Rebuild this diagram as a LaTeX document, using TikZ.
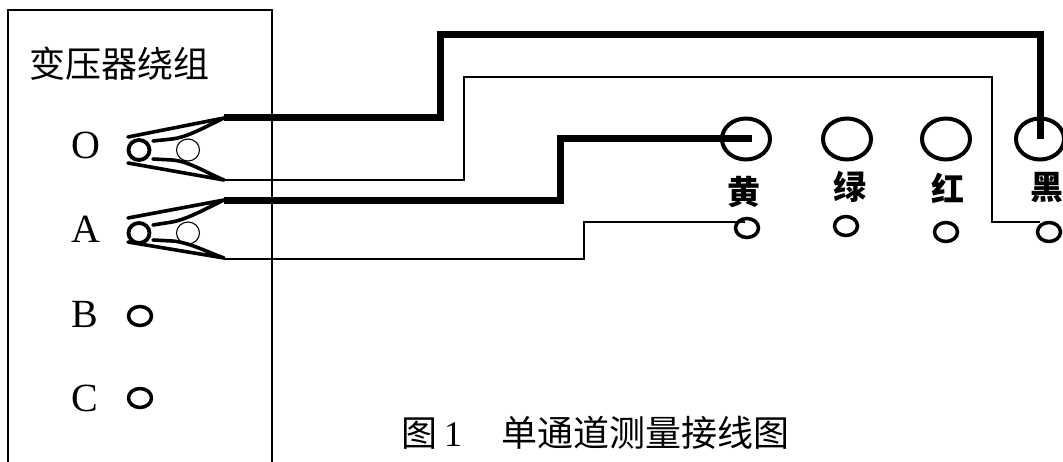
\documentclass[tikz,border=0pt]{standalone}
\usepackage{fontspec}
\setmainfont{Liberation Serif}
\newfontfamily\cjk{Noto Sans CJK SC}
\usetikzlibrary{shapes.geometric}
\begin{document}
\begin{tikzpicture}[x=1pt,y=-1pt,
  thickwire/.style={line width=7pt,line join=miter},
  thinwire/.style={line width=1.3pt},
  frame/.style={line width=1.6pt},
  bigring/.style={draw,ellipse,line width=4pt,minimum width=48pt,minimum height=41pt,inner sep=0pt},
  smallring/.style={draw,ellipse,line width=3.5pt,minimum width=23pt,minimum height=19pt,inner sep=0pt},
  jaw/.style={line width=3.6pt,line join=round,line cap=round},
  ringthick/.style={line width=3.8pt},
  ringthin/.style={line width=1.1pt},
  term/.style={font=\fontsize{40}{44}\selectfont,anchor=base,inner sep=0pt},
  colorlab/.style={font=\cjk\bfseries\fontsize{33}{36}\selectfont,inner sep=0pt},
  cjktext/.style={font=\cjk\fontsize{36}{40}\selectfont,inner sep=0pt}]
\useasboundingbox (0,0) rectangle (1063,462);
\clip (0,0) rectangle (1063,462);
% winding box
\draw[frame] (8,470) -- (8,10) -- (272,10) -- (272,470);
\node[cjktext,anchor=base west] (title) at (29,78) {变压器绕组};
% terminal labels
\node[term] (lO) at (86,159) {O};
\node[term] (lA) at (86,243) {A};
\node[term] (lB) at (85,327) {B};
\node[term] (lC) at (85,411) {C};
% terminals B, C
\node[smallring] (tB) at (140,316) {};
\node[smallring] (tC) at (140,398) {};
% clip on O
\draw[ringthick] (139,150) ellipse [x radius=10.5,y radius=10];
\draw[ringthin] (188,150) ellipse [x radius=11.5,y radius=11];
\draw[jaw] (128,137) -- (224,118) .. controls (205,127) and (188,137) .. (172,139) -- (153,141);
\draw[jaw] (128,163) -- (224,180) .. controls (205,172) and (188,161) .. (172,160) -- (153,159);
\coordinate (Otop) at (224,118);
\coordinate (Obot) at (224,180);
% clip on A
\draw[ringthick] (139,233) ellipse [x radius=10.5,y radius=10];
\draw[ringthin] (188,233) ellipse [x radius=11.5,y radius=11];
\draw[jaw] (128,218) -- (224,200) .. controls (205,209) and (188,219) .. (172,222) -- (153,225);
\draw[jaw] (128,242) -- (224,258) .. controls (205,251) and (188,242) .. (172,241) -- (153,240);
\coordinate (Atop) at (224,201);
\coordinate (Abot) at (224,259);
% instrument sockets
\node[bigring] (bY) at (746,139) {};
\node[bigring] (bG) at (847,139) {};
\node[bigring] (bR) at (946,139) {};
\node[bigring] (bK) at (1040,139) {};
\node[colorlab] (labY) at (744,192) {黄};
\node[colorlab] (labG) at (850,187) {绿};
\node[colorlab] (labR) at (948,188) {红};
\node[colorlab] (labK) at (1047,188) {黑};
\node[smallring] (sY) at (747,228) {};
\node[smallring] (sG) at (846,226) {};
\node[smallring] (sR) at (946,232) {};
\node[smallring] (sK) at (1049,232) {};
\coordinate (yIn) at (752,139);
\coordinate (yIn2) at (745,222);
\coordinate (kIn) at (1040,222);
% wires
\draw[thickwire] (Otop) -- (440,118) -- (440,35) -- (1040,35) -- (bK.center);
\draw[thinwire] (Obot) -- (464,180) -- (464,77) -- (992,77) -- (992,222) -- (kIn);
\draw[thickwire] (Atop) -- (560,201) -- (560,139) -- (yIn);
\draw[thinwire] (Abot) -- (584,259) -- (584,222) -- (yIn2);
% caption
\node[cjktext,anchor=base west] (capfig) at (401,446) {图};
\node[term,font=\fontsize{36}{40}\selectfont,anchor=base west] (capnum) at (444,446) {1};
\node[cjktext,anchor=base west] (captxt) at (501,446) {单通道测量接线图};
\end{tikzpicture}
\end{document}
